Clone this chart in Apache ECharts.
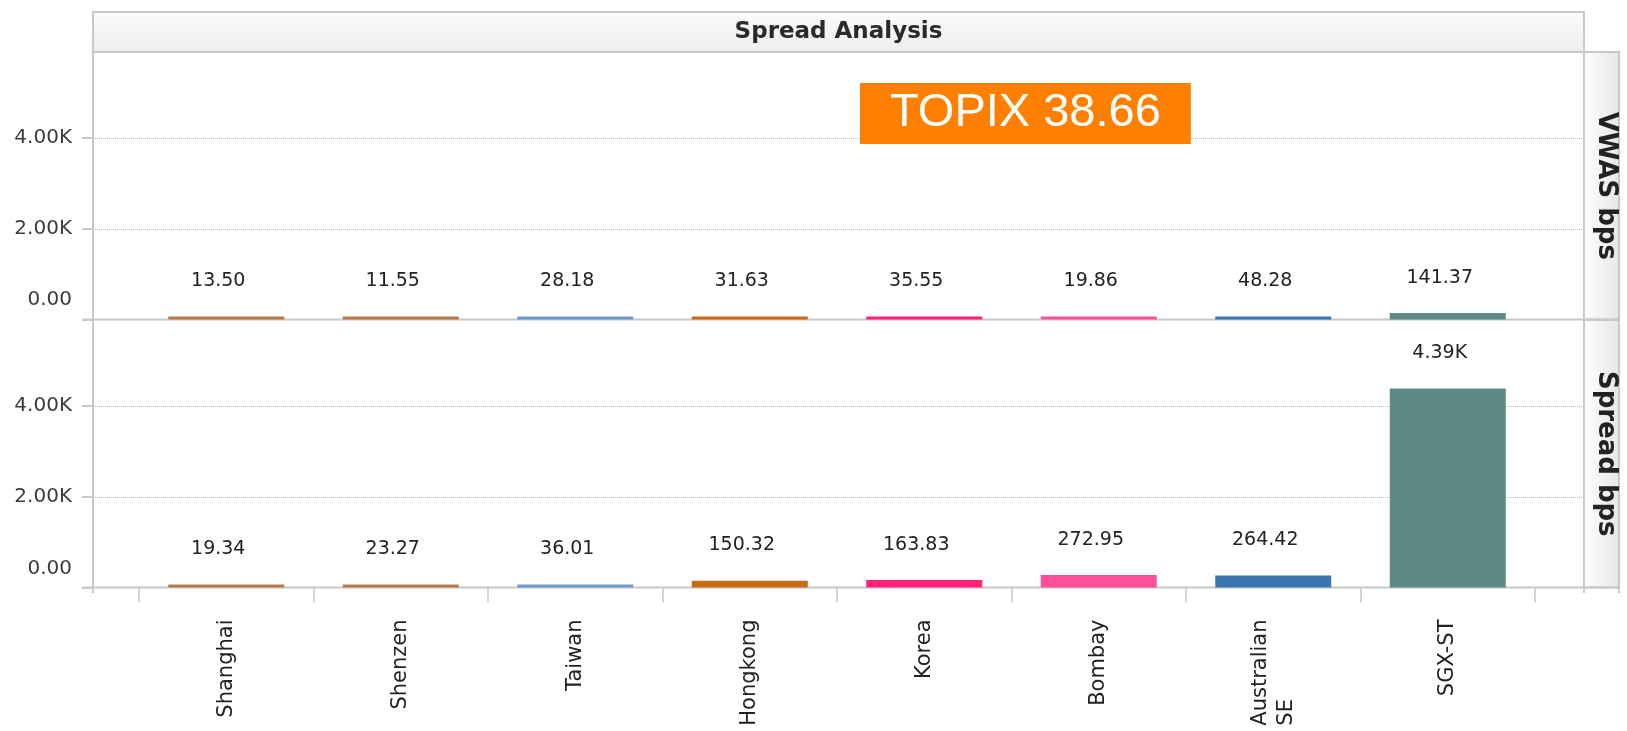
<!DOCTYPE html>
<html>
<head>
<meta charset="utf-8">
<script src="https://cdn.jsdelivr.net/npm/echarts@6/dist/echarts.min.js"></script>
<style>
html, body { margin: 0; padding: 0; background: #fff; }
#main { width: 1627px; height: 731px; }
</style>
</head>
<body>
<div id="main"></div>
<script>
var categories = ['Shanghai', 'Shenzen', 'Taiwan', 'Hongkong', 'Korea', 'Bombay', 'Australian\nSE', 'SGX-ST'];
var vwasBps = [13.50, 11.55, 28.18, 31.63, 35.55, 19.86, 48.28, 141.37];
var spreadBps = [19.34, 23.27, 36.01, 150.32, 163.83, 272.95, 264.42, 4390];
var barColors = ['#b97a4a', '#b97a4a', '#6f9bcb', '#c86b14', '#ff2277', '#ff4f98', '#3b74ae', '#5f8985'];
var yTicks = [0, 2000, 4000];
var yMax = 5900;
var chartTitle = 'Spread Analysis';
var topixLabel = 'TOPIX 38.66';
var panelNames = ['VWAS bps', 'Spread bps'];

var chart = echarts.init(document.getElementById('main'));

var frameLeft = 93, frameRight = 1584, sideRight = 1619;
var dataLeft = 139, dataRight = 1535;
var panelTop = [52, 320], panelH = 267.5;
var lineColor = '#c8c8c8';

function kFmt(v) {
    return v >= 1000 ? (v / 1000).toFixed(2) + 'K' : v.toFixed(2);
}

// y axis with labels/gridlines, zero label pushed up a bit
function frameYAxis(grid, zeroLift) {
    return {
        gridIndex: grid, type: 'value', min: 0, max: yMax, interval: 2000,
        axisLine: {show: false},
        axisTick: {show: true, length: 11, customValues: yTicks, lineStyle: {color: lineColor, width: 2}},
        axisLabel: {
            margin: 21, customValues: yTicks,
            formatter: function (v) {
                return v === 0 ? '{z|0.00}' : '{n|' + kFmt(v) + '}';
            },
            rich: {
                z: {fontFamily: 'DejaVu Sans', fontSize: 20, color: '#3c3c3c', padding: [0, 0, zeroLift * 2, 0]},
                n: {fontFamily: 'DejaVu Sans', fontSize: 20, color: '#3c3c3c'}
            }
        },
        splitLine: {show: true, lineStyle: {color: '#b8b8b8', type: 'dotted', width: 1}}
    };
}

function sideNameAxis(grid, name) {
    return {
        gridIndex: grid, type: 'value', position: 'right', min: 0, max: yMax, z: 10,
        axisLine: {show: false}, axisTick: {show: false}, axisLabel: {show: false}, splitLine: {show: false},
        name: name, nameLocation: 'middle', nameRotate: -90, nameGap: 9,
        nameTextStyle: {fontFamily: 'DejaVu Sans', fontWeight: 'bold', fontSize: 26, color: '#222'}
    };
}

function barSeries(axis, values) {
    return {
        type: 'bar', xAxisIndex: axis, yAxisIndex: axis, data: values,
        barWidth: 116, barMinHeight: 3,
        itemStyle: {color: function (p) { return barColors[p.dataIndex]; }},
        label: {
            show: true, position: 'top', distance: 26, offset: [-8, 0],
            formatter: function (p) { return kFmt(p.value); },
            fontFamily: 'DejaVu Sans', fontSize: 19, color: '#222'
        }
    };
}

var bandFill = new echarts.graphic.LinearGradient(0, 0, 0, 1, [
    {offset: 0, color: '#fbfbfb'}, {offset: 1, color: '#ececec'}
]);
var sideFill = new echarts.graphic.LinearGradient(0, 0, 1, 0, [
    {offset: 0, color: '#ffffff'}, {offset: 1, color: '#e6e6e6'}
]);

var option = {
    animation: false,
    backgroundColor: '#fff',
    title: [{
        text: topixLabel, left: 860, top: 83,
        backgroundColor: '#ff8000', padding: [6, 30, 6, 30],
        textStyle: {color: '#fff', fontSize: 47, fontWeight: 'normal', fontFamily: 'Liberation Sans', lineHeight: 49}
    }],
    grid: [
        {left: frameLeft, top: panelTop[0], width: frameRight - frameLeft, height: panelH},
        {left: dataLeft, top: panelTop[0], width: dataRight - dataLeft, height: panelH},
        {left: frameLeft, top: panelTop[1], width: frameRight - frameLeft, height: panelH},
        {left: dataLeft, top: panelTop[1], width: dataRight - dataLeft, height: panelH}
    ],
    xAxis: [
        {gridIndex: 0, type: 'value', show: false},
        {gridIndex: 1, type: 'category', data: categories, show: false},
        {gridIndex: 2, type: 'value', show: false},
        {
            gridIndex: 3, type: 'category', data: categories, offset: 8,
            axisLine: {show: false},
            axisTick: {show: true, length: 15, lineStyle: {color: lineColor, width: 1.5}},
            axisLabel: {
                rotate: 90, interval: 0, margin: 24,
                formatter: function (v) {
                    return v.split('\n').map(function (s) { return '{c|' + s + '}'; }).join('\n');
                },
                rich: {c: {fontFamily: 'DejaVu Sans', fontSize: 21, color: '#222', lineHeight: 26, align: 'left'}}
            }
        }
    ],
    yAxis: [
        frameYAxis(0, 20),
        {gridIndex: 1, type: 'value', min: 0, max: yMax, show: false},
        frameYAxis(2, 19),
        {gridIndex: 3, type: 'value', min: 0, max: yMax, show: false},
        sideNameAxis(0, panelNames[0]),
        sideNameAxis(2, panelNames[1])
    ],
    series: [
        barSeries(1, vwasBps),
        barSeries(3, spreadBps)
    ],
    graphic: [
        {type: 'rect', z: 1, shape: {x: frameLeft, y: 12, width: frameRight - frameLeft, height: 40},
            style: {fill: bandFill, stroke: lineColor, lineWidth: 2}},
        {type: 'text', z: 3, x: (frameLeft + frameRight) / 2, y: 32,
            style: {text: chartTitle, align: 'center', verticalAlign: 'middle',
                font: 'bold 23px "DejaVu Sans"', fill: '#2a2a2a'}},
        {type: 'rect', z: 1, shape: {x: frameRight, y: panelTop[0], width: sideRight - frameRight, height: panelH},
            style: {fill: sideFill, stroke: lineColor, lineWidth: 2}},
        {type: 'rect', z: 1, shape: {x: frameRight, y: panelTop[1], width: sideRight - frameRight, height: panelH},
            style: {fill: sideFill, stroke: lineColor, lineWidth: 2}},
        {type: 'line', z: 1, shape: {x1: frameLeft, y1: 12, x2: frameLeft, y2: 593}, style: {stroke: lineColor, lineWidth: 2}},
        {type: 'line', z: 1, shape: {x1: frameRight, y1: 12, x2: frameRight, y2: 593}, style: {stroke: lineColor, lineWidth: 2}},
        {type: 'line', z: 1, shape: {x1: sideRight, y1: panelTop[0], x2: sideRight, y2: 593}, style: {stroke: lineColor, lineWidth: 2}},
        {type: 'line', z: 1, shape: {x1: 82, y1: panelTop[0] + panelH, x2: sideRight, y2: panelTop[0] + panelH}, style: {stroke: lineColor, lineWidth: 2}},
        {type: 'line', z: 1, shape: {x1: 82, y1: panelTop[1] + panelH, x2: sideRight, y2: panelTop[1] + panelH}, style: {stroke: lineColor, lineWidth: 2}}
    ]
};

chart.setOption(option);
window.onresize = chart.resize;
</script>
</body>
</html>
